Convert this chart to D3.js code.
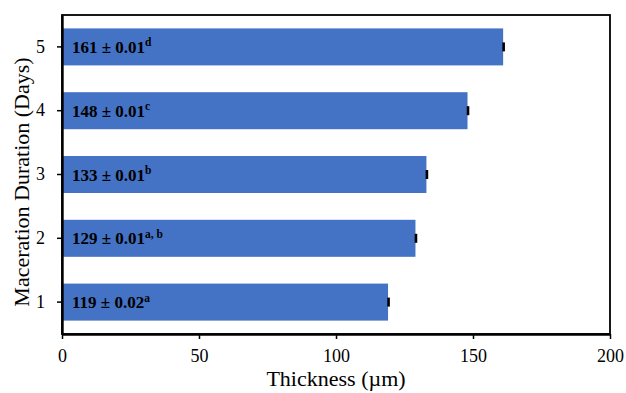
<!DOCTYPE html>
<html>
<head>
<meta charset="utf-8">
<script src="https://cdn.jsdelivr.net/npm/d3@7"></script>
<style>
  html, body { margin: 0; padding: 0; background: #fff; }
  svg { display: block; }
</style>
</head>
<body>
<svg id="chart" width="626" height="393"></svg>
<script>
// Maceration duration (days) vs. film thickness (µm)
const days = ["1", "2", "3", "4", "5"];
const thickness = [119, 129, 133, 148, 161];
const errors = [0.02, 0.01, 0.01, 0.01, 0.01];
const letters = ["a", "a, b", "b", "c", "d"];
const xTicks = [0, 50, 100, 150, 200];

const svg = d3.select("#chart");
const margin = { left: 62, right: 16, top: 15, bottom: 59 };
const W = 626, H = 393;
const pw = W - margin.left - margin.right;
const ph = H - margin.top - margin.bottom;
const serif = "'Liberation Serif', 'Times New Roman', serif";

const x = d3.scaleLinear().domain([0, 200]).range([margin.left, margin.left + pw]);
const y = d3.scaleBand().domain(days.slice().reverse())
  .range([margin.top, margin.top + ph]).paddingInner(0.42).paddingOuter(0.21);

const rows = days.map((d, i) => ({ day: d, v: thickness[i], e: errors[i], sig: letters[i] }));

// bars
svg.append("g").selectAll("rect").data(rows).join("rect")
  .attr("x", x(0))
  .attr("y", d => y(d.day))
  .attr("width", d => x(d.v) - x(0))
  .attr("height", y.bandwidth())
  .attr("fill", "#4472C4");

// error bars
const eg = svg.append("g").attr("stroke", "#000");
eg.selectAll("line.err").data(rows).join("line")
  .attr("x1", d => x(d.v - d.e)).attr("x2", d => x(d.v + d.e))
  .attr("y1", d => y(d.day) + y.bandwidth() / 2)
  .attr("y2", d => y(d.day) + y.bandwidth() / 2)
  .attr("stroke-width", 1);
eg.selectAll("line.cap").data(rows).join("line")
  .attr("x1", d => x(d.v) + 0.5).attr("x2", d => x(d.v) + 0.5)
  .attr("y1", d => y(d.day) + y.bandwidth() / 2 - 4.5)
  .attr("y2", d => y(d.day) + y.bandwidth() / 2 + 4.5)
  .attr("stroke-width", 2.6);

// value labels inside bars
const lab = svg.append("g").selectAll("text").data(rows).join("text")
  .attr("x", x(0) + 10)
  .attr("y", d => y(d.day) + y.bandwidth() / 2 + 6)
  .attr("font-family", serif)
  .attr("font-weight", "bold")
  .attr("font-size", 17)
  .attr("fill", "#000");
lab.append("tspan").text(d => `${d.v} ± ${d.e.toFixed(2)}`);
lab.append("tspan").attr("font-size", 11.5).attr("dy", -6.5).text(d => d.sig);

// frame
svg.append("rect")
  .attr("x", margin.left).attr("y", margin.top)
  .attr("width", pw).attr("height", ph)
  .attr("fill", "none").attr("stroke", "#000").attr("stroke-width", 1.8);

// x axis
const xa = svg.append("g").attr("transform", `translate(0,${margin.top + ph})`)
  .call(d3.axisBottom(x).tickValues(xTicks).tickSize(5).tickSizeOuter(0).tickPadding(10));
xa.select(".domain").attr("stroke-width", 2.4);
xa.selectAll(".tick line").attr("stroke-width", 1.5);
xa.selectAll("text").attr("font-family", serif).attr("font-size", 18).attr("fill", "#000");

// y axis
const ya = svg.append("g").attr("transform", `translate(${margin.left},0)`)
  .call(d3.axisLeft(y).tickSize(5).tickSizeOuter(0).tickPadding(12));
ya.select(".domain").attr("stroke-width", 2.4);
ya.selectAll(".tick line").attr("stroke-width", 1.5);
ya.selectAll("text").attr("font-family", serif).attr("font-size", 18).attr("fill", "#000");

// axis titles
svg.append("text")
  .attr("x", margin.left + pw / 2).attr("y", 386)
  .attr("text-anchor", "middle")
  .attr("font-family", serif).attr("font-size", 22)
  .text("Thickness (µm)");
svg.append("text")
  .attr("transform", `translate(29,182) rotate(-90)`)
  .attr("text-anchor", "middle")
  .attr("font-family", serif).attr("font-size", 22)
  .text("Maceration Duration (Days)");
</script>
</body>
</html>
